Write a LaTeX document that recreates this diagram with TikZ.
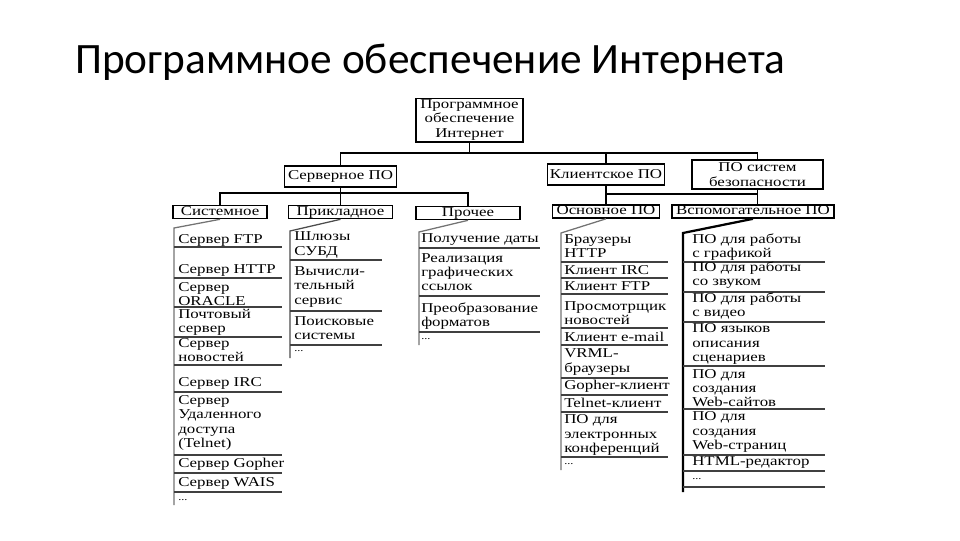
\documentclass[tikz,border=0pt]{standalone}
\usepackage{fontspec}
\setmainfont{Liberation Serif}
\newfontfamily\titlefont{Carlito}
\newfontfamily\diagfont[FakeStretch=1.25]{Liberation Serif}
\newcommand{\itemsize}{\fontsize{9.6}{10.2}\selectfont}
\tikzset{
  box/.style={draw,line width=1pt,inner sep=0pt,align=center,font=\diagfont\itemsize},
  tab/.style={box,text height=6.6pt,text depth=1.8pt,inner ysep=0.5pt},
  entry/.style={anchor=west,inner sep=0pt,align=left,font=\diagfont\itemsize},
  wire/.style={line width=1pt},
  spine/.style={black!70,line width=0.9pt},
  rule/.style={black!75,line width=0.8pt},
}

\begin{document}
\begin{tikzpicture}[x=0.025cm,y=-0.025cm]
 \useasboundingbox (0,0) rectangle (960,540);
 \node[anchor=base west,inner sep=0pt,font=\titlefont\fontsize{30.8}{33}\selectfont] (title) at (75,73) {Программное обеспечение Интернета};

 % boxes of the tree
 \node[box,minimum width=76pt,minimum height=31pt] (root) at (469.5,120) {Программное\\обеспечение\\Интернет};
 \node[box,minimum width=80pt,minimum height=15pt] (srv) at (340.5,176.5) {Серверное ПО};
 \node[box,minimum width=83pt,minimum height=15pt] (cli) at (606,174.5) {Клиентское ПО};
 \node[box,minimum width=93pt,minimum height=20.6pt] (sec) at (757.5,174.5) {ПО систем\\безопасности};
 \node[tab,minimum width=67pt] (sys) at (220,212) {Системное};
 \node[tab,minimum width=74pt] (app) at (340.5,212) {Прикладное};
 \node[tab,minimum width=74pt] (oth) at (468,213) {Прочее};
 \node[tab,minimum width=76pt] (base) at (606,211.5) {Основное ПО};
 \node[tab,minimum width=115pt] (aux) at (753,211.5) {Вспомогательное ПО};

 % branches
 \coordinate (bus1) at (0,153);
 \coordinate (bus2) at (0,193);
 \coordinate (bus3) at (0,194);
 \draw[wire] (root.south) -- (root.south |- bus1);
 \draw[wire] (srv.north) |- (sec.north |- bus1) -- (sec.north);
 \draw[wire] (cli.north) -- (cli.north |- bus1);
 \draw[wire] (sys.north) |- (oth.north |- bus2) -- (oth.north);
 \draw[wire] (srv.south) -- (app.north);
 \draw[wire] (cli.south) -- (base.north);
 \draw[wire] (cli.south |- bus3) -| (sec.south |- aux.north);
 \draw[wire] (sec.south) -- (sec.south |- bus3);

 % Системное
 \coordinate (systop) at (174,228);
 \coordinate (sysbot) at (174,505);
 \draw[spine,black!55] (sys.south) -- (systop) -- (sysbot);
 \foreach \y in {247,278,307,337,365,392,455,473,492}
  \draw[rule] (174,\y) -- (282,\y);
 \foreach \txt/\y [count=\i] in {Сервер FTP/240,Сервер HTTP/270,{Сервер\\ORACLE}/294,
   {Почтовый\\сервер}/322,{Сервер\\новостей}/350,Сервер IRC/383,
   {Сервер\\Удаленного\\доступа\\(Telnet)}/423,Сервер Gopher/464,Сервер WAIS/483,{\scriptsize...}/500}
  \node[entry] (sys\i) at (178,\y) {\txt};

 % Прикладное
 \coordinate (apptop) at (290,231);
 \coordinate (appbot) at (290,358);
 \draw[spine] (app.south) -- (apptop) -- (appbot);
 \foreach \y in {260,311,345}
  \draw[rule] (290,\y) -- (382,\y);
 \foreach \txt/\y [count=\i] in {{Шлюзы\\СУБД}/245,{Вычисли-\\тельный\\сервис}/287,
   {Поисковые\\системы}/328,{\scriptsize...}/351}
  \node[entry] (app\i) at (294,\y) {\txt};

 % Прочее
 \coordinate (othtop) at (419,232);
 \coordinate (othbot) at (419,345);
 \draw[spine,black!55] (oth.south) -- (othtop) -- (othbot);
 \foreach \y in {248,296,332}
  \draw[rule] (419,\y) -- (540,\y);
 \foreach \txt/\y [count=\i] in {Получение даты/240,{Реализация\\графических\\ссылок}/272,
   {Преобразование\\форматов}/316,{\scriptsize...}/339}
  \node[entry] (oth\i) at (421,\y) {\txt};

 % Основное ПО
 \coordinate (basetop) at (561,233);
 \coordinate (basebot) at (561,470);
 \draw[spine,black!55] (base.south) -- (basetop) -- (basebot);
 \foreach \y in {262,278,294,328,345,378,395,412,457}
  \draw[rule] (561,\y) -- (668,\y);
 \foreach \txt/\y [count=\i] in {{Браузеры\\HTTP}/246,Клиент IRC/270,Клиент FTP/286,
   {Просмотрщик\\новостей}/313,Клиент e-mail/337,{VRML-\\браузеры}/362,
   Gopher-клиент/386,Telnet-клиент/403,{ПО для\\электронных\\конференций}/435,{\scriptsize...}/464}
  \node[entry] (base\i) at (564,\y) {\txt};

 % Вспомогательное ПО
 \coordinate (auxtop) at (683,233);
 \coordinate (auxbot) at (683,492);
 \draw[spine,black,line width=1.6pt] (aux.south) -- (auxtop) -- (auxbot);
 \foreach \y in {262,292,322,366,409,455,471,487}
  \draw[rule] (683,\y) -- (825,\y);
 \foreach \txt/\y [count=\i] in {{ПО для работы\\с графикой}/247,{ПО для работы\\со звуком}/275,
   {ПО для работы\\с видео}/306,{ПО языков\\описания\\сценариев}/344,
   {ПО для\\создания\\Web-сайтов}/388,{ПО для\\создания\\Web-страниц}/432,
   HTML-редактор/463,{\scriptsize...}/479}
  \node[entry] (aux\i) at (692,\y) {\txt};
\end{tikzpicture}
\end{document}
